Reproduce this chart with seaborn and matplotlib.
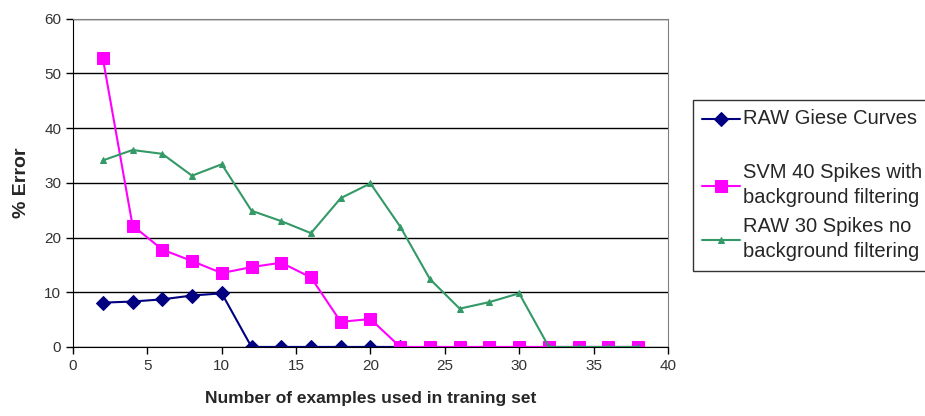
import matplotlib
matplotlib.use('Agg')
import matplotlib.pyplot as plt
import seaborn as sns
import numpy as np

# values
x_raw_giese = [2, 4, 6, 8, 10, 12, 14, 16, 18, 20, 22]
raw_giese = [8.1, 8.3, 8.7, 9.4, 9.8, 0, 0, 0, 0, 0, 0]

x_svm40 = [2, 4, 6, 8, 10, 12, 14, 16, 18, 20, 22, 24, 26, 28, 30, 32, 34, 36, 38]
svm40 = [52.8, 22.2, 17.8, 15.7, 13.5, 14.6, 15.4, 12.7, 4.6, 5.1,
         0, 0, 0, 0, 0, 0, 0, 0, 0]

x_raw30 = [2, 4, 6, 8, 10, 12, 14, 16, 18, 20, 22, 24, 26, 28, 30, 32, 34, 36, 38]
raw30 = [34.1, 36.0, 35.3, 31.3, 33.4, 24.9, 23.0, 20.8, 27.2, 29.9,
         22.0, 12.4, 7.0, 8.2, 9.8, 0, 0, 0, 0]

# Excel style legend: first entry keeps a blank second line
labels = ['RAW Giese Curves\n',
          'SVM 40 Spikes with\nbackground filtering',
          'RAW 30 Spikes no\nbackground filtering']

sns.set_style('white')
plt.rcParams['font.family'] = ['Liberation Sans', 'DejaVu Sans']

fig = plt.figure(figsize=(9.25, 4.16), dpi=100)
ax = fig.add_axes([0.079, 0.166, 0.643, 0.789])

sns.lineplot(x=x_raw_giese, y=raw_giese, ax=ax, color='#000080', marker='D',
             markersize=7, markeredgecolor='#000080', linewidth=1.5, label=labels[0])
sns.lineplot(x=x_svm40, y=svm40, ax=ax, color='#FF00FF', marker='s',
             markersize=9, markeredgecolor='#FF00FF', linewidth=1.5, label=labels[1])
sns.lineplot(x=x_raw30, y=raw30, ax=ax, color='#339966', marker='^',
             markersize=5, markeredgecolor='#339966', linewidth=1.5, label=labels[2])

ax.set_xlim(0, 40)
ax.set_ylim(0, 60)
ax.set_xticks(range(0, 41, 5))
ax.set_yticks(range(0, 61, 10))
ax.grid(axis='y', color='black', linewidth=1)
ax.set_axisbelow(True)
for side in ['top', 'right']:
    ax.spines[side].set_color('#808080')
for side in ['left', 'bottom']:
    ax.spines[side].set_color('black')
ax.tick_params(axis='both', direction='out', length=5, width=1, color='black',
               labelsize=11, labelcolor='#333333', left=True, bottom=True)

ax.set_xlabel('Number of examples used in traning set', fontsize=12.5,
              fontweight='bold', labelpad=13)
ax.set_ylabel('% Error', fontsize=14, fontweight='bold', labelpad=10)

leg = ax.legend(loc='upper left', bbox_to_anchor=(0.749, 0.760),
                bbox_transform=fig.transFigure, frameon=True, fancybox=False,
                fontsize=14.5, handlelength=1.9, labelspacing=0.5,
                borderpad=0.45, handletextpad=0.12, borderaxespad=0)
leg.get_frame().set_edgecolor('black')
leg.get_frame().set_linewidth(1)
for t in leg.get_texts():
    t.set_linespacing(1.41)

# lift the first handle to the first text line
h0 = leg.legend_handles[0]
h0.set_ydata(np.asarray(h0.get_ydata()) + 9)

fig.savefig('out.png', dpi=100)
